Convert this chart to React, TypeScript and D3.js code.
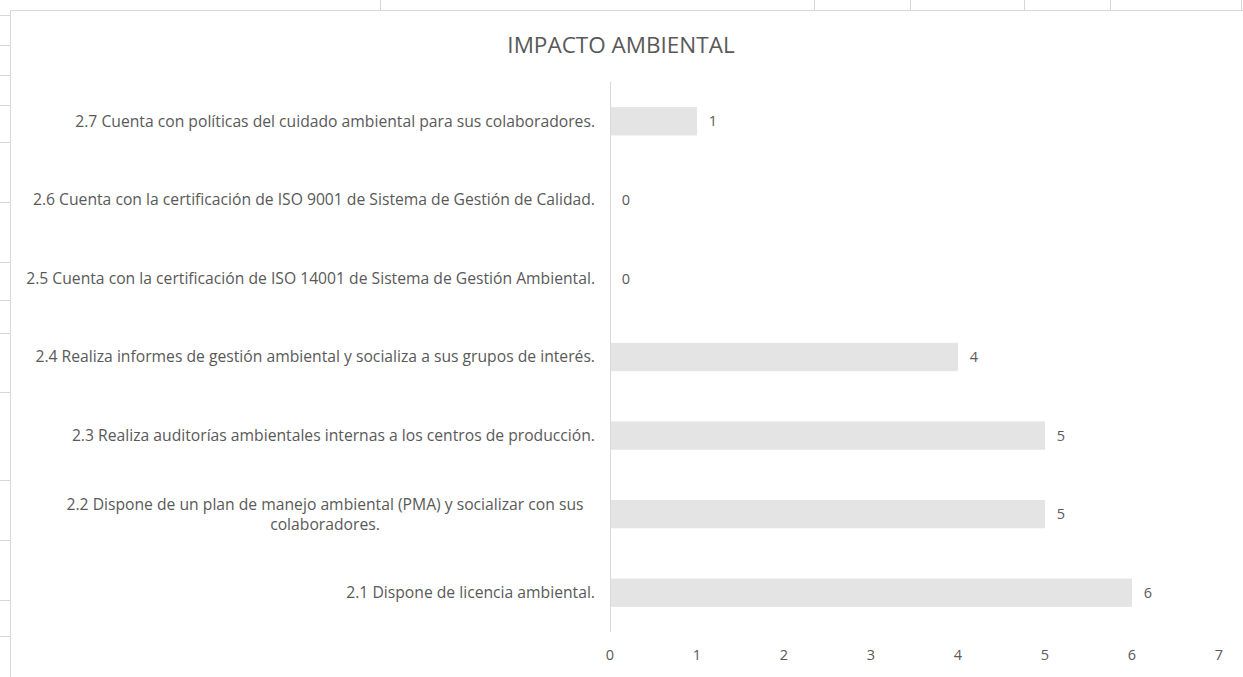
import React, { useEffect, useRef } from "react";
import * as d3 from "d3";

const categories = [
  "2.7 Cuenta con políticas del cuidado ambiental para sus colaboradores.",
  "2.6 Cuenta con la certificación de ISO 9001 de Sistema de Gestión de Calidad.",
  "2.5 Cuenta con la certificación de ISO 14001 de Sistema de Gestión Ambiental.",
  "2.4 Realiza informes de gestión ambiental y socializa a sus grupos de interés.",
  "2.3 Realiza auditorías ambientales internas a los centros de producción.",
  "2.2 Dispone de un plan de manejo ambiental (PMA) y socializar con sus colaboradores.",
  "2.1 Dispone de licencia ambiental.",
];
const values = [1, 0, 0, 4, 5, 5, 6];
const xTicks = [0, 1, 2, 3, 4, 5, 6, 7];
const title = "IMPACTO AMBIENTAL";

const W = 1243;
const H = 677;
const FONT = "'Open Sans', sans-serif";
const TEXT = "#595959";

export default function App() {
  const ref = useRef<SVGSVGElement>(null);

  useEffect(() => {
    const svg = d3.select(ref.current);
    svg.selectAll("*").remove();

    // spreadsheet background lines
    const grid = svg.append("g").attr("stroke", "#d6d6d6").attr("stroke-width", 1);
    [380, 814, 910, 1024, 1110, 1241].forEach((x) =>
      grid.append("line").attr("x1", x + 0.5).attr("x2", x + 0.5).attr("y1", 0).attr("y2", 10)
    );
    [15, 45, 75, 105, 142, 202, 262, 300, 333, 392, 480, 540, 600, 636].forEach((y) =>
      grid.append("line").attr("x1", 0).attr("x2", 10).attr("y1", y + 0.5).attr("y2", y + 0.5)
    );

    // chart frame
    svg
      .append("rect")
      .attr("x", 10.5)
      .attr("y", 10.5)
      .attr("width", W + 20)
      .attr("height", H + 20)
      .attr("fill", "#ffffff")
      .attr("stroke", "#d9d9d9");

    const x = d3.scaleLinear().domain([0, 7]).range([610, 1219]);
    const y = d3.scaleBand<string>().domain(categories).range([82, 632]).paddingInner(0.64).paddingOuter(0.32);

    // title
    svg
      .append("text")
      .attr("x", 621)
      .attr("y", 53)
      .attr("text-anchor", "middle")
      .attr("font-family", FONT)
      .attr("font-size", 22.5)
      .attr("fill", TEXT)
      .text(title);

    // bars
    svg
      .append("g")
      .selectAll("rect")
      .data(values)
      .join("rect")
      .attr("x", x(0))
      .attr("y", (_, i) => y(categories[i])!)
      .attr("width", (d) => x(d) - x(0))
      .attr("height", y.bandwidth())
      .attr("fill", "#e4e4e4");

    // axis line
    svg
      .append("line")
      .attr("x1", x(0) + 0.5)
      .attr("x2", x(0) + 0.5)
      .attr("y1", 82)
      .attr("y2", 632)
      .attr("stroke", "#d9d9d9");

    // value labels
    svg
      .append("g")
      .selectAll("text")
      .data(values)
      .join("text")
      .attr("x", (d) => x(d) + 16)
      .attr("y", (_, i) => y(categories[i])! + y.bandwidth() / 2)
      .attr("dy", "0.35em")
      .attr("text-anchor", "middle")
      .attr("font-family", FONT)
      .attr("font-size", 14.5)
      .attr("fill", TEXT)
      .text((d) => String(d));

    // x tick labels
    svg
      .append("g")
      .selectAll("text")
      .data(xTicks)
      .join("text")
      .attr("x", (d) => x(d))
      .attr("y", 655)
      .attr("dy", "0.35em")
      .attr("text-anchor", "middle")
      .attr("font-family", FONT)
      .attr("font-size", 14.5)
      .attr("fill", TEXT)
      .text((d) => String(d));

    // category labels
    const lg = svg.append("g").attr("font-family", FONT).attr("font-size", 15.7).attr("fill", TEXT);
    categories.forEach((c) => {
      const cy = y(c)! + y.bandwidth() / 2;
      if (c.startsWith("2.2")) {
        const lines = [
          "2.2 Dispone de un plan de manejo ambiental (PMA) y socializar con sus",
          "colaboradores.",
        ];
        lines.forEach((ln, j) => {
          lg.append("text")
            .attr("x", 325)
            .attr("y", cy + (j - 0.5) * 20)
            .attr("dy", "0.35em")
            .attr("text-anchor", "middle")
            .text(ln);
        });
      } else {
        lg.append("text")
          .attr("x", 595)
          .attr("y", cy)
          .attr("dy", "0.35em")
          .attr("text-anchor", "end")
          .text(c);
      }
    });
  }, []);

  return (
    <svg
      ref={ref}
      width={W}
      height={H}
      style={{ position: "absolute", left: 0, top: 0, background: "#ffffff" }}
    />
  );
}
